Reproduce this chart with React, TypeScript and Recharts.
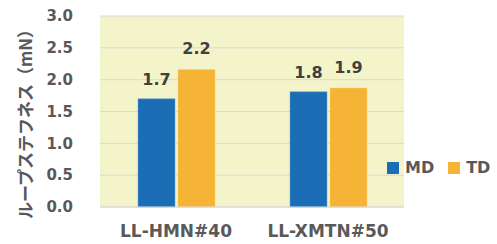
import { BarChart, Bar, XAxis, YAxis, CartesianGrid, Legend, LabelList } from 'recharts';

const categories = ['LL-HMN#40', 'LL-XMTN#50'];
const mdValues = [1.7, 1.81];
const tdValues = [2.16, 1.87];
const yTicks = [0, 0.5, 1.0, 1.5, 2.0, 2.5, 3.0];

const BLUE = '#1B6EB5';
const ORANGE = '#F5B435';
const TEXT = '#595959';
const FONT = '"DejaVu Sans", Verdana, sans-serif';

const data = categories.map((name, i) => ({ name, MD: mdValues[i], TD: tdValues[i] }));

function YLabel() {
  return (
    <text
      x={24}
      y={120}
      transform="rotate(-90 24 120)"
      textAnchor="middle"
      dominantBaseline="central"
      fill={TEXT}
      style={{ fontFamily: '"Noto Sans CJK JP", sans-serif', fontWeight: 700, fontSize: 17 }}
    >
      ループステフネス（mN）
    </text>
  );
}

function LegendContent() {
  const items = [
    { label: 'MD', color: BLUE },
    { label: 'TD', color: ORANGE },
  ];
  return (
    <div style={{ display: 'flex', alignItems: 'center' }}>
      {items.map((it, i) => (
        <div key={it.label} style={{ display: 'flex', alignItems: 'center', marginLeft: i ? 14 : 0 }}>
          <div style={{ width: 12, height: 12, background: it.color, marginRight: 6 }} />
          <span style={{ fontFamily: FONT, fontWeight: 700, fontSize: 16, color: TEXT, lineHeight: '16px' }}>
            {it.label}
          </span>
        </div>
      ))}
    </div>
  );
}

export default function App() {
  return (
    <div style={{ position: 'absolute', left: 0, top: 0, width: 497, height: 244, background: '#fff' }}>
      <BarChart
        width={497}
        height={244}
        data={data}
        margin={{ top: 16, right: 93, bottom: 0, left: 0 }}
        barSize={37}
        barGap={3}
      >
        <CartesianGrid vertical={false} stroke="#D9D9D9" fill="#F3F4C9" />
        <XAxis
          dataKey="name"
          height={37}
          axisLine={{ stroke: '#D9D9D9' }}
          tickLine={false}
          tickSize={0}
          tickMargin={18}
          tick={{ fill: TEXT, fontFamily: FONT, fontWeight: 700, fontSize: 17 }}
        />
        <YAxis
          width={100}
          domain={[0, 3]}
          ticks={yTicks}
          interval={0}
          axisLine={false}
          tickLine={false}
          tickSize={0}
          tickMargin={27}
          tickFormatter={(v: number) => v.toFixed(1)}
          tick={{ fill: TEXT, fontFamily: FONT, fontWeight: 700, fontSize: 15 }}
          label={<YLabel />}
        />
        <Legend
          layout="horizontal"
          verticalAlign="middle"
          align="center"
          content={<LegendContent />}
          wrapperStyle={{ left: 387, top: 160, width: 'auto' }}
        />
        <Bar dataKey="MD" fill={BLUE} stroke="#6FA3D3" strokeWidth={0.5} isAnimationActive={false}>
          <LabelList
            dataKey="MD"
            position="top"
            offset={14}
            formatter={(v: number) => v.toFixed(1)}
            style={{ fill: '#404040', fontFamily: FONT, fontWeight: 700, fontSize: 16 }}
          />
        </Bar>
        <Bar dataKey="TD" fill={ORANGE} stroke="#F9D27F" strokeWidth={0.5} isAnimationActive={false}>
          <LabelList
            dataKey="TD"
            position="top"
            offset={15}
            formatter={(v: number) => v.toFixed(1)}
            style={{ fill: '#404040', fontFamily: FONT, fontWeight: 700, fontSize: 16 }}
          />
        </Bar>
      </BarChart>
    </div>
  );
}
